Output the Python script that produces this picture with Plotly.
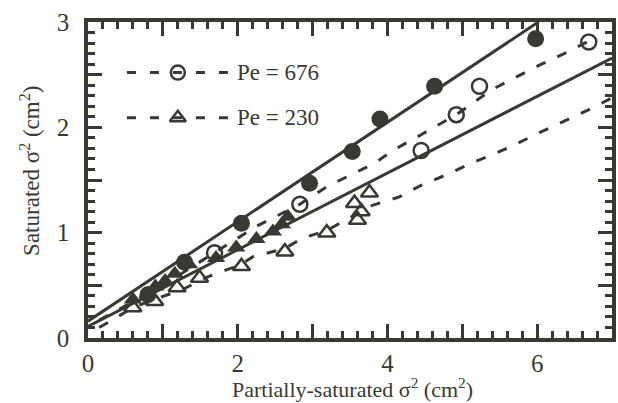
import plotly.graph_objects as go

# ---- data ----
filled_circ_x = [0.80, 1.29, 2.05, 2.96, 3.53, 3.90, 4.63, 5.98]
filled_circ_y = [0.41, 0.72, 1.09, 1.47, 1.77, 2.08, 2.39, 2.84]

open_circ_x = [1.69, 2.83, 4.45, 4.92, 5.23, 6.69]
open_circ_y = [0.81, 1.27, 1.78, 2.12, 2.39, 2.81]

filled_tri_x = [0.60, 0.80, 0.90, 1.03, 1.16, 1.35, 1.71, 1.98, 2.25, 2.47, 2.59, 2.67]
filled_tri_y = [0.365, 0.42, 0.49, 0.54, 0.61, 0.70, 0.76, 0.86, 0.94, 1.01, 1.08, 1.15]

open_tri_x = [0.60, 0.89, 1.19, 1.49, 2.05, 2.63, 3.19, 3.56, 3.65, 3.60, 3.76]
open_tri_y = [0.29, 0.35, 0.48, 0.57, 0.68, 0.82, 1.00, 1.28, 1.20, 1.12, 1.38]

# solid fit lines (intercept, slope, x-extent)
fit_a = dict(b=0.16, m=0.472, x0=0.0, x1=6.02)   # filled circles
fit_b = dict(b=0.11, m=0.364, x0=0.0, x1=7.0)    # filled triangles

# dashed curves
dash676_x = [0.15, 1.00, 1.69, 2.25, 2.83, 3.20, 3.83, 4.07, 4.45, 4.92, 5.40, 6.03, 6.36, 6.75]
dash676_y = [0.17, 0.50, 0.81, 1.06, 1.27, 1.44, 1.66, 1.78, 1.93, 2.12, 2.36, 2.59, 2.70, 2.84]

dash230_x = [0.15, 0.30, 0.60, 0.96, 1.29, 1.60, 2.05, 2.20, 2.63, 2.87, 3.19, 3.49, 3.80, 4.16,
             4.45, 4.79, 5.09, 5.40, 5.69, 6.03, 6.33, 6.67, 7.00]
dash230_y = [0.10, 0.16, 0.29, 0.38, 0.47, 0.58, 0.70, 0.77, 0.85, 0.95, 1.02, 1.14, 1.26, 1.34,
             1.45, 1.55, 1.65, 1.74, 1.83, 1.95, 2.05, 2.16, 2.28]

x_tickvals = [0, 1, 2, 3, 4, 5, 6, 7]
x_ticktext = ['0', '', '2', '', '4', '', '6', '']
y_tickvals = [0, 0.5, 1, 1.5, 2, 2.5, 3]
y_ticktext = ['0', '', '1', '', '2', '', '3']

legend_labels = ['Pe = 676', 'Pe = 230']
x_title = 'Partially-saturated σ<sup>2</sup> (cm<sup>2</sup>)'
y_title = 'Saturated σ<sup>2</sup> (cm<sup>2</sup>)'

INK = '#393933'
FONT = 'Liberation Serif, Times New Roman, serif'
DASH = '10px,13px'

fig = go.Figure()

# dashed curves
fig.add_trace(go.Scatter(x=dash676_x, y=dash676_y, mode='lines',
                         line=dict(color=INK, width=3, dash=DASH), showlegend=False))
fig.add_trace(go.Scatter(x=dash230_x, y=dash230_y, mode='lines',
                         line=dict(color=INK, width=3, dash=DASH), showlegend=False))

# solid fits
for f in (fit_a, fit_b):
    xs = [f['x0'], f['x1']]
    ys = [f['b'] + f['m'] * v for v in xs]
    fig.add_trace(go.Scatter(x=xs, y=ys, mode='lines',
                             line=dict(color=INK, width=3), showlegend=False))

# markers
fig.add_trace(go.Scatter(x=open_tri_x, y=open_tri_y, mode='markers',
                         marker=dict(symbol='triangle-up-open', size=15, color=INK,
                                     line=dict(width=2.5, color=INK)), showlegend=False))
fig.add_trace(go.Scatter(x=filled_tri_x, y=filled_tri_y, mode='markers',
                         marker=dict(symbol='triangle-up', size=16, color=INK,
                                     line=dict(width=0)), showlegend=False))
fig.add_trace(go.Scatter(x=open_circ_x, y=open_circ_y, mode='markers',
                         marker=dict(symbol='circle-open', size=15, color=INK,
                                     line=dict(width=2.5, color=INK)), showlegend=False))
fig.add_trace(go.Scatter(x=filled_circ_x, y=filled_circ_y, mode='markers',
                         marker=dict(symbol='circle', size=17, color=INK,
                                     line=dict(width=0)), showlegend=False))

# hand-drawn legend (in data coordinates)
leg_rows = [(2.52, 'circle-open'), (2.09, 'triangle-up-open')]
for (ly, sym), lab in zip(leg_rows, legend_labels):
    fig.add_trace(go.Scatter(x=[0.52, 1.87], y=[ly, ly], mode='lines',
                             line=dict(color=INK, width=3, dash='9px,14px'), showlegend=False))
    fig.add_trace(go.Scatter(x=[1.2], y=[ly], mode='markers',
                             marker=dict(symbol=sym, size=14, color=INK,
                                         line=dict(width=2.5, color=INK)), showlegend=False))
    fig.add_annotation(x=1.97, y=ly, text=lab, showarrow=False, xanchor='left',
                       yanchor='middle', font=dict(family=FONT, size=23, color=INK))

# axis titles as annotations for exact placement
fig.add_annotation(text=x_title, xref='paper', yref='paper', x=0.505, y=-0.158,
                   xanchor='center', yanchor='middle', showarrow=False,
                   font=dict(family=FONT, size=22, color=INK))
fig.add_annotation(text=y_title, xref='paper', yref='paper', x=-0.11, y=0.53,
                   xanchor='center', yanchor='middle', showarrow=False, textangle=-90,
                   font=dict(family=FONT, size=23, color=INK))

axis_common = dict(
    showgrid=False, zeroline=False, showline=True, linewidth=3.5, linecolor=INK,
    mirror='allticks', ticks='inside', ticklen=14, tickwidth=2.5, tickcolor=INK,
    tickfont=dict(family=FONT, size=25, color=INK), automargin=False,
)

fig.update_xaxes(**axis_common, range=[0, 7], tickmode='array',
                 tickvals=x_tickvals, ticktext=x_ticktext, ticklabelstandoff=0,
                 minor=dict(tickmode='linear', tick0=0, dtick=0.2, ticks='inside',
                            ticklen=7, tickwidth=2.5, tickcolor=INK))
fig.update_yaxes(**axis_common, range=[0, 3], tickmode='array',
                 tickvals=y_tickvals, ticktext=y_ticktext, ticklabelstandoff=10,
                 minor=dict(tickmode='linear', tick0=0, dtick=0.1, ticks='inside',
                            ticklen=7, tickwidth=2.5, tickcolor=INK))

fig.update_layout(width=618, height=403, paper_bgcolor='white', plot_bgcolor='white',
                  margin=dict(l=88, r=6, t=22, b=65), showlegend=False)

fig.write_html('out.html', config={'displayModeBar': False},
               post_script="document.body.style.margin='0';")
